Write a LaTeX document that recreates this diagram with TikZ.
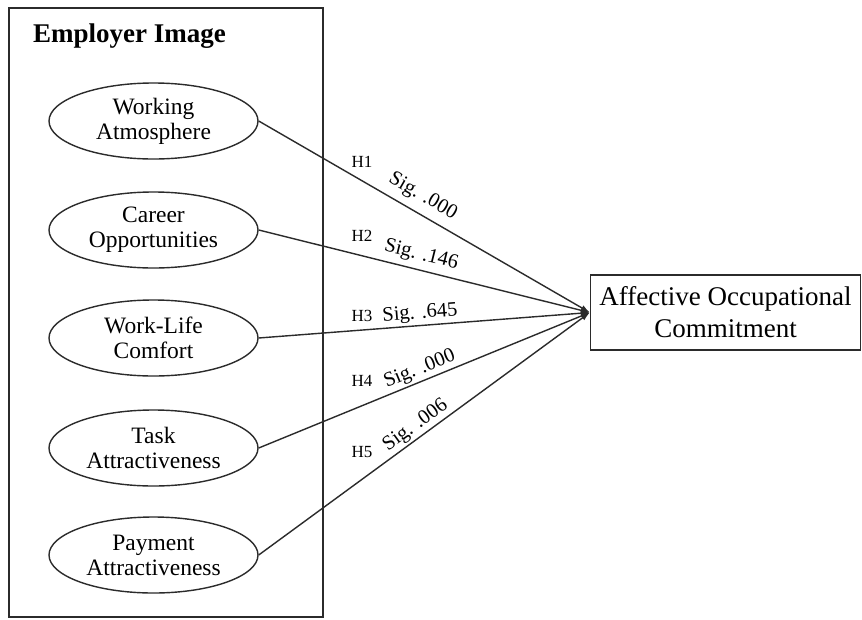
\documentclass[tikz,border=0pt]{standalone}
\usepackage{fontspec}
\setmainfont{Liberation Serif}
\usetikzlibrary{shapes.geometric,arrows.meta}
\begin{document}
\definecolor{ink}{HTML}{2B2B2B}
\tikzset{
  factor/.style={ellipse, draw=ink, line width=1.4pt, minimum width=209pt, minimum height=76pt,
    inner sep=0pt, align=center, font=\fontsize{23.5}{25}\selectfont},
  outcome/.style={rectangle, draw=ink, line width=1.4pt, minimum width=270pt, minimum height=75pt,
    inner sep=0pt, align=center, font=\fontsize{27}{32}\selectfont},
  path/.style={draw=ink, line width=1.4pt, -{Latex[length=9pt,width=6pt]}},
  hyp/.style={font=\fontsize{17}{17}\selectfont, inner sep=0pt},
  sig/.style={font=\fontsize{20.5}{20.5}\selectfont, sloped, above, inner sep=4pt}
}
\begin{tikzpicture}[x=1pt, y=-1pt]
\useasboundingbox (0,0) rectangle (862,619);
\fill[white] (0,0) rectangle (862,619);

% frame of the employer image block
\draw[ink, line width=1.4pt] (9,8) rectangle (323,617);
\node[anchor=base west, font=\fontsize{27}{27}\selectfont\bfseries, inner sep=0pt] (title) at (33,42) {Employer Image};

% the five dimensions
\node[factor] (wa) at (153.5,121) {Working\\Atmosphere};
\node[factor] (co) at (153.5,230) {Career\\Opportunities};
\node[factor] (wl) at (153.5,338) {Work-Life\\Comfort};
\node[factor] (ta) at (153.5,448) {Task\\Attractiveness};
\node[factor] (pa) at (153.5,555) {Payment\\Attractiveness};

% outcome
\node[outcome] (aoc) at (725.5,312.5) {Affective Occupational\\Commitment};

% hypothesised paths
\draw[path] (wa.east) -- node[sig, pos=0.47, inner sep=7pt] {Sig. .000} (aoc.west);
\draw[path] (co.east) -- node[sig, pos=0.48, inner sep=5pt] {Sig. .146} (aoc.west);
\draw[path] (wl.east) -- node[sig, pos=0.49, inner sep=2pt] {Sig. .645} (aoc.west);
\draw[path] (ta.east) -- node[sig, pos=0.50, inner sep=2pt] {Sig. .000} (aoc.west);
\draw[path] (pa.east) -- node[sig, pos=0.495, inner sep=2pt] {Sig. .006} (aoc.west);

% hypothesis labels
\node[hyp] (h1) at (362,162) {H1};
\node[hyp] (h2) at (362,236) {H2};
\node[hyp] (h3) at (362,316) {H3};
\node[hyp] (h4) at (362,381) {H4};
\node[hyp] (h5) at (362,452) {H5};
\end{tikzpicture}
\end{document}
